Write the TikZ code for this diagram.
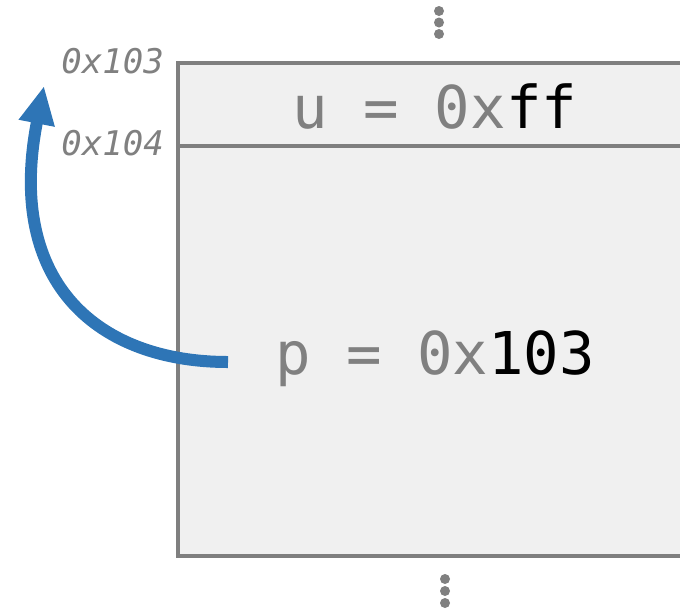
\documentclass[tikz,border=0pt]{standalone}
\usepackage{fontspec}
\setmonofont{DejaVu Sans Mono}
\usetikzlibrary{arrows.meta}
\definecolor{grayline}{HTML}{7F7F7F}
\definecolor{graytext}{HTML}{808080}
\definecolor{cellfill}{HTML}{F0F0F0}
\definecolor{arrowblue}{HTML}{2E75B6}
\tikzset{
  cell/.style={draw=grayline, line width=4pt, fill=cellfill},
  valtext/.style={font=\fontsize{59}{59}\selectfont\ttfamily, text=graytext, anchor=base, inner sep=0pt},
  addr/.style={font=\fontsize{34}{34}\selectfont\ttfamily\itshape, text=graytext, anchor=base east, inner sep=0pt},
  vdot/.style={circle, fill=graytext, inner sep=0pt, minimum size=10pt},
  ptr/.style={draw=arrowblue, line width=12pt, -{Triangle[length=38pt,width=34pt]}}
}
\begin{document}
\begin{tikzpicture}[x=1pt,y=-1pt]
\useasboundingbox (0,0) rectangle (680,611);
\begin{scope}
\clip (0,0) rectangle (680,611);
\draw[cell] (178,63) rectangle (700,556);
\draw[draw=grayline, line width=4pt] (178,146) -- (700,146);
\end{scope}
\node[valtext] (u) at (435,128) {u = 0x\textcolor{black}{ff}};
\node[valtext] (p) at (435,374) {p = 0x\textcolor{black}{103}};
\node[addr] (a103) at (164,73) {0x103};
\node[addr] (a104) at (164,155) {0x104};
\node[vdot] (t1) at (439,11) {};
\node[vdot] (t2) at (439,22.5) {};
\node[vdot] (t3) at (439,34) {};
\node[vdot] (b1) at (445,579) {};
\node[vdot] (b2) at (445,591) {};
\node[vdot] (b3) at (445,603) {};
\coordinate (ps) at (228,362);
\coordinate (pe) at (44,86);
\draw[ptr] (ps) .. controls (100,362) and (5,285) .. (pe);
\end{tikzpicture}
\end{document}
